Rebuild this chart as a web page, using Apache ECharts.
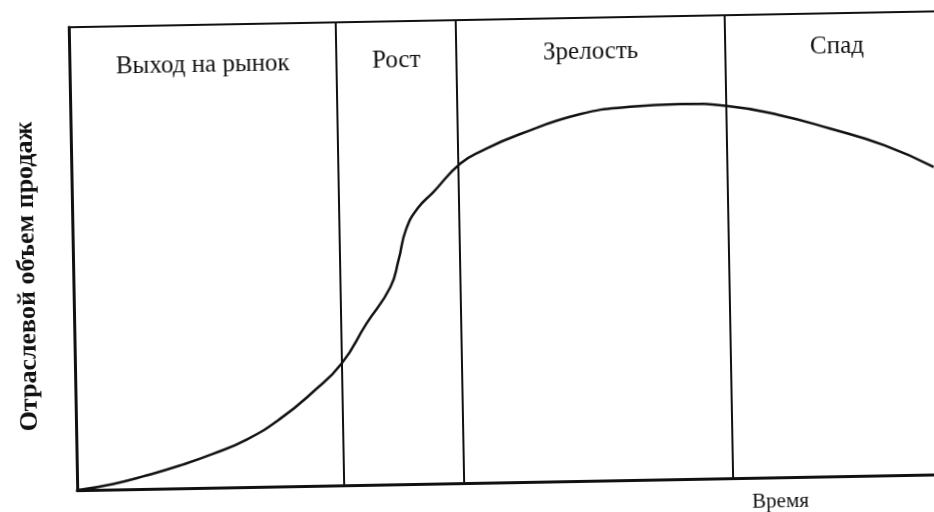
<!DOCTYPE html>
<html>
<head>
<meta charset="utf-8">
<script src="https://cdn.jsdelivr.net/npm/echarts@6/dist/echarts.min.js"></script>
<style>
  html, body { margin: 0; padding: 0; background: #fff; overflow: hidden; }
  body { width: 934px; height: 512px; position: relative; }
  /* the scan is tilted a little, so the chart is too */
  #chart {
    position: absolute;
    left: -23px;
    top: -24px;
    width: 980px;
    height: 560px;
    transform: rotate(-1.05deg);
    transform-origin: 50% 50%;
  }
</style>
</head>
<body>
<div id="chart"></div>
<script>
const stageNames = ['Выход на рынок', 'Рост', 'Зрелость', 'Спад']
const stageBounds = [0, 30.3, 44, 74.5, 100]
const timeX = [0, 4.1, 7.9, 11.7, 15.5, 19.4, 23.2, 27.0, 30.3, 33.2, 36.0, 37.0, 37.9, 39.3, 41.1, 44.2, 46.8, 51.0, 57.9, 63.6, 69.3, 74.6, 80.6, 86.3, 92.4, 98.0]
const salesY = [0, 1.2, 2.9, 4.9, 7.3, 10.3, 14.6, 20.3, 26.3, 34.8, 42.6, 48.5, 55.0, 59.6, 63.0, 69.0, 71.8, 75.1, 79.2, 80.6, 81.0, 80.4, 78.2, 75.1, 71.3, 66.4]

const ink = '#111'
const serif = '"Liberation Serif", "DejaVu Serif", serif'
// small vertical nudges for the stage titles (the scan is not quite straight)
const labelNudge = [4, 3, -2, -3]

const chart = echarts.init(document.getElementById('chart'), null, { renderer: 'canvas' })

const areas = stageNames.map((name, i) => [
  { xAxis: stageBounds[i], name, label: { offset: [0, labelNudge[i]] } },
  { xAxis: stageBounds[i + 1] }
])
const dividers = stageBounds.slice(1, -1).map(x => ({ xAxis: x }))

chart.setOption({
  animation: false,
  backgroundColor: '#fff',
  grid: {
    left: 96,
    top: 44,
    right: 4,
    bottom: 53,
    show: true,
    borderColor: ink,
    borderWidth: 2
  },
  xAxis: {
    type: 'value',
    min: 0,
    max: 100,
    name: 'Время',
    nameLocation: 'middle',
    nameGap: 14,
    nameTextStyle: {
      color: ink,
      fontFamily: serif,
      fontSize: 21,
      padding: [0, 0, 0, 526]
    },
    axisLine: { lineStyle: { color: ink, width: 3 } },
    axisTick: { show: false },
    axisLabel: { show: false },
    splitLine: { show: false }
  },
  yAxis: {
    type: 'value',
    min: 0,
    max: 100,
    name: 'Отраслевой объем продаж',
    nameLocation: 'middle',
    nameRotate: 90,
    nameGap: 33,
    nameTextStyle: {
      color: ink,
      fontFamily: serif,
      fontSize: 26,
      fontWeight: 'bold',
      padding: [0, 34, 0, 0]
    },
    axisLine: { show: true, lineStyle: { color: ink, width: 3 } },
    axisTick: { show: false },
    axisLabel: { show: false },
    splitLine: { show: false }
  },
  series: [
    {
      type: 'line',
      data: timeX.map((x, i) => [x, salesY[i]]),
      smooth: 0.5,
      showSymbol: false,
      lineStyle: { color: ink, width: 2.5 },
      markLine: {
        silent: true,
        symbol: 'none',
        label: { show: false },
        lineStyle: { color: ink, width: 2, type: 'solid' },
        data: dividers
      },
      markArea: {
        silent: true,
        itemStyle: { color: 'rgba(0,0,0,0)' },
        label: {
          position: 'insideTop',
          distance: 24,
          color: ink,
          fontFamily: serif,
          fontSize: 25
        },
        data: areas
      }
    }
  ]
})
</script>
</body>
</html>
